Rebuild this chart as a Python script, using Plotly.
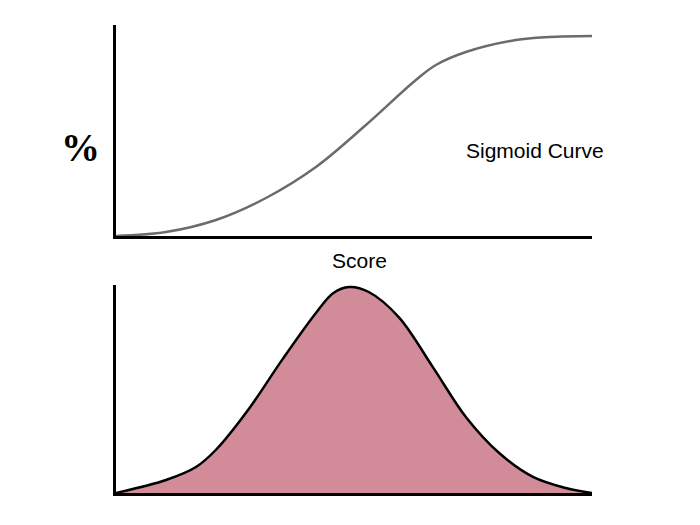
import plotly.graph_objects as go

# Top: sigmoid curve (score vs %)
sig_x = [0, 10.5, 21, 31.5, 42, 52.5, 63, 67.2, 73.5, 84, 91, 100]
sig_y = [0, 2, 8, 19, 34.5, 55.5, 78, 85.5, 92, 98, 99.5, 100]

# Bottom: distribution curve
dist_x = [0, 10.5, 16.8, 21, 27.9, 35, 42, 45.6, 49, 53.1, 59.4, 66.6, 73.5, 80.5, 87.6, 94.5, 100]
dist_y = [0, 6.3, 12.6, 21, 40.8, 65, 87.4, 97, 100, 97.6, 85.4, 61, 36.9, 19.4, 7.8, 2.4, 0]

labels = {"y": "%", "curve": "Sigmoid Curve", "x": "Score"}

DX, DY = 7, 8  # page offset compensation

def px(x):
    return (x - DX) / 700

def py(y):
    return 1 - (y - DY) / 525

fig = go.Figure()
fig.add_trace(go.Scatter(x=sig_x, y=sig_y, mode="lines",
                         line=dict(color="#6b6b6b", width=2.5, shape="spline", smoothing=1.0),
                         xaxis="x", yaxis="y", showlegend=False, hoverinfo="skip"))
fig.add_trace(go.Scatter(x=dist_x, y=dist_y, mode="lines", fill="tozeroy",
                         fillcolor="#d28b98",
                         line=dict(color="black", width=2.5, shape="spline", smoothing=1.0),
                         xaxis="x2", yaxis="y2", showlegend=False, hoverinfo="skip"))

ax_common = dict(showline=True, linecolor="black", linewidth=2.5, showgrid=False,
                 zeroline=False, showticklabels=False, ticks="")
fig.update_layout(
    width=700, height=525,
    margin=dict(l=0, r=0, t=0, b=0),
    paper_bgcolor="white", plot_bgcolor="white",
    xaxis=dict(domain=[px(115), px(591)], range=[0, 100], anchor="y", **ax_common),
    yaxis=dict(domain=[py(236), py(25)], range=[0, 105.5], anchor="x", **ax_common),
    xaxis2=dict(domain=[px(115), px(591)], range=[0, 100], anchor="y2", **ax_common),
    yaxis2=dict(domain=[py(493), py(285)], range=[0, 101], anchor="x2", **ax_common),
    annotations=[
        dict(text="<b>" + labels["y"] + "</b>", x=px(79), y=py(147), xref="paper", yref="paper",
             showarrow=False, font=dict(family="Liberation Serif", size=39, color="black"),
             xanchor="center", yanchor="middle"),
        dict(text=labels["curve"], x=px(534), y=py(150), xref="paper", yref="paper",
             showarrow=False, font=dict(family="Liberation Sans", size=21, color="black"),
             xanchor="center", yanchor="middle"),
        dict(text=labels["x"], x=px(358), y=py(261), xref="paper", yref="paper",
             showarrow=False, font=dict(family="Liberation Sans", size=21, color="black"),
             xanchor="center", yanchor="middle"),
    ],
)
fig.write_html("out.html")
